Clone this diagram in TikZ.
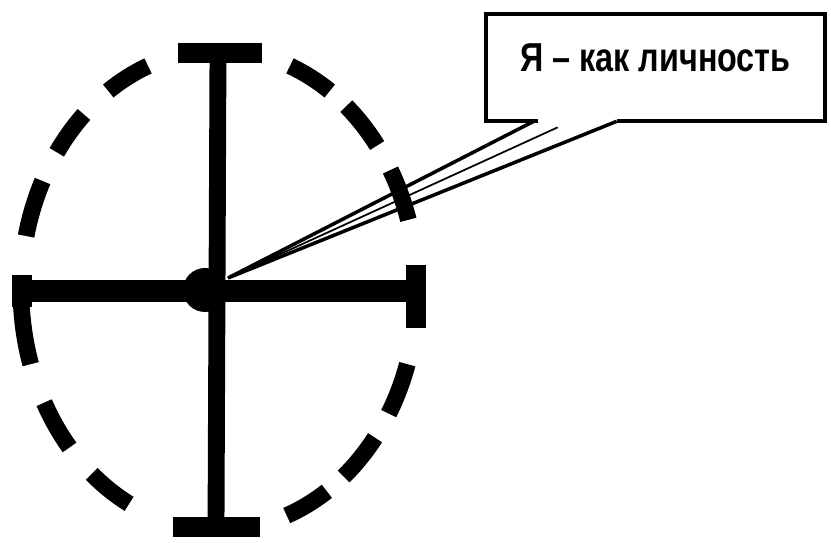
\documentclass[tikz,border=0pt]{standalone}
\usepackage{fontspec}
\newfontfamily\calloutfont[FakeStretch=0.8]{Liberation Sans}
\usetikzlibrary{calc}
\tikzset{
  rimdash/.style={line width=9.5pt},
  stem/.style={line width=9.6pt},
  beam/.style={line width=12pt},
  endbar/.style={line width=11pt},
  calloutbox/.style={
    minimum width=6.78cm,
    inner xsep=0pt,
    inner ysep=0pt,
    text height=1.16cm,
    text depth=0.98cm,
    font=\calloutfont\bfseries\fontsize{23}{26}\selectfont
  },
  boxline/.style={line width=2.3pt, line join=miter},
  pointer/.style={line width=2pt}
}
\begin{document}
\begin{tikzpicture}[x=0.02cm, y=-0.02cm]
\useasboundingbox (0,0) rectangle (831,543);

% dashed rim
\coordinate (ctr) at (219,290);
\foreach \a/\b in {18/31,38/51,57/70,117/130,139/152,162/180,193/207,215/227,236/249,291/304,310/323,330/343}
  \draw[rimdash] (ctr) ++(\a:198 and 240) arc[start angle=\a, end angle=\b, x radius=198, y radius=240];

% cross
\coordinate (top) at (218,53);
\coordinate (bottom) at (216,527);
\coordinate (left) at (22,291);
\coordinate (right) at (416,291);
\coordinate (hub) at (205,290);
\draw[stem] (top) -- (bottom);
\draw[beam] (left) -- (right);
\draw[endbar] ($(top)+(-40,0)$) -- ($(top)+(44,0)$);
\draw[endbar] ($(bottom)+(-43,0)$) -- ($(bottom)+(44,0)$);
\draw[endbar] ($(left)+(0,-16)$) -- ($(left)+(0,16)$);
\draw[endbar] ($(right)+(0,-26)$) -- ($(right)+(0,37)$);
\fill (hub) circle[radius=22];

% callout
\node[calloutbox] (label) at (655.5,67.5) {Я – как личность};
\coordinate (tailL) at ($(label.south west)+(52,0)$);
\coordinate (tailR) at ($(label.south west)+(131,0)$);
\coordinate (tip) at (228,278);
\draw[boxline] (tailL) -- (label.south west) -- (label.north west) -- (label.north east) -- (label.south east) -- (tailR);
\draw[pointer] ($(tailL)+(-4,0)$) -- (tip) -- (tailR);
\draw[pointer, line width=1pt] ($(tailL)+(20,6)$) -- (tip);
\end{tikzpicture}
\end{document}
